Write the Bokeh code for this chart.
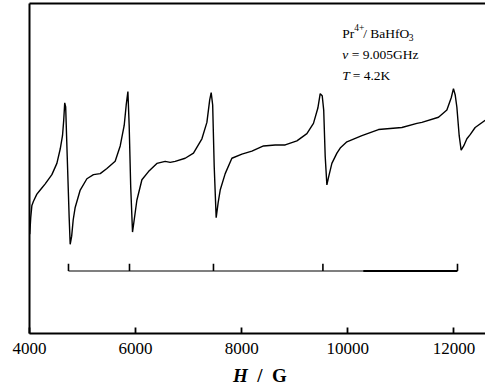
from bokeh.plotting import figure
from bokeh.models import Range1d, LinearAxis, FixedTicker, Label, Div
from bokeh.layouts import column
from bokeh.embed import file_html
from bokeh.resources import INLINE

# EPR spectrum of Pr4+ in BaHfO3 (field in gauss, signal in arbitrary units)
field = [4005, 4023, 4045, 4075, 4139, 4202, 4296, 4422, 4516, 4579, 4622, 4645, 4664,
         4682, 4711, 4748, 4767, 4795, 4824, 4861, 4956, 5082, 5206, 5333, 5459, 5615,
         5710, 5785, 5823, 5855, 5879, 5908, 5942, 5974, 6024, 6119, 6243, 6401, 6558,
         6652, 6746, 6935, 7091, 7250, 7344, 7397, 7425, 7453, 7482, 7519, 7557, 7595,
         7689, 7815, 8004, 8192, 8411, 8632, 8820, 9041, 9229, 9353, 9436, 9480, 9518,
         9546, 9574, 9606, 9640, 9700, 9795, 9857, 9983, 10266, 10579, 10799, 11020,
         11303, 11397, 11710, 11868, 11950, 11992, 12024, 12056, 12100, 12137, 12185,
         12245, 12307, 12401, 12590]
signal = [97, 113, 125, 129, 136, 140, 146, 155, 166, 180, 193, 208, 225,
          221, 173, 113, 87, 95, 111, 123, 140, 151, 155, 156, 161, 168,
          183, 203, 223, 236, 203, 143, 99, 111, 130, 150, 158, 166, 168,
          167, 168, 171, 176, 190, 206, 228, 235, 223, 163, 113, 128, 140,
          156, 171, 175, 178, 183, 184, 184, 188, 195, 205, 220, 234, 232,
          218, 173, 145, 153, 166, 176, 181, 187, 193, 199, 200, 201,
          205, 206, 211, 218, 230, 239, 233, 221, 193, 179, 183,
          190, 194, 201, 208]

# stick diagram of the resonance positions
stick_fields = [4735, 5885, 7468, 9531, 12068]
stick_level = 61
stick_top = 68
stick_dark_from = 10290

x_ticks = [4000, 6000, 8000, 10000, 12000]

p = figure(width=485, height=362, output_backend="svg", toolbar_location=None,
           x_range=Range1d(4000, 12596), y_range=Range1d(0, 322),
           x_axis_location="below", y_axis_location=None,
           min_border_left=29, min_border_right=0, min_border_top=3, min_border_bottom=29)
p.outline_line_color = None
p.grid.visible = False
p.background_fill_color = "white"
p.border_fill_color = "white"

xa = p.xaxis[0]
xa.ticker = FixedTicker(ticks=x_ticks)
xa.major_tick_in = 6
xa.major_tick_out = 0
xa.minor_tick_line_color = None
xa.axis_line_width = 1.8
xa.major_tick_line_width = 1.8
xa.major_label_text_font = "Liberation Serif"
xa.major_label_text_font_size = "17px"
xa.major_label_text_color = "black"
xa.major_label_standoff = 9

left = LinearAxis(ticker=FixedTicker(ticks=[]), axis_line_width=2,
                  major_tick_line_color=None, minor_tick_line_color=None,
                  major_label_text_font_size="0px")
p.add_layout(left, "left")
top = LinearAxis(ticker=FixedTicker(ticks=[]), axis_line_width=2,
                 major_tick_line_color=None, minor_tick_line_color=None,
                 major_label_text_font_size="0px")
p.add_layout(top, "above")

p.line(field, signal, line_color="black", line_width=1.4)

# stick diagram
p.line([stick_fields[0], stick_dark_from], [stick_level, stick_level], line_color="#555555", line_width=1.6)
p.line([stick_dark_from, stick_fields[-1]], [stick_level, stick_level], line_color="black", line_width=1.8)
p.segment(x0=stick_fields, y0=[stick_level] * len(stick_fields),
          x1=stick_fields, y1=[stick_top] * len(stick_fields),
          line_color="black", line_width=1.6)

font = "Liberation Serif"
tx = 9894

def lab(text, x, y, size, style="normal", dx=0, dy=0):
    p.add_layout(Label(x=x, y=y, text=text, x_offset=dx, y_offset=dy,
                       text_font=font, text_font_size=size, text_font_style=style,
                       text_color="black", text_baseline="alphabetic", text_align="left"))

lab("Pr", tx, 293, "13.5px")
lab("4+", tx, 293, "9.5px", dx=12, dy=6)
lab("/ BaHfO", tx, 293, "13.5px", dx=21)
lab("3", tx, 293, "9.5px", dx=66.5, dy=-4)
lab("v", tx, 272, "13.5px", "italic")
lab("= 9.005GHz", tx, 272, "13.5px", dx=9.5)
lab("T", tx, 252, "13.5px", "italic")
lab("= 4.2K", tx, 252, "13.5px", dx=10.5)

xlabel = Div(text='<div style="font-family:\'Liberation Serif\';font-size:19px;font-weight:bold;'
                  'line-height:27px;padding-left:233px;color:black;white-space:nowrap">'
                  '<i>H</i>&nbsp; /&nbsp; G</div>',
             width=485, height=25, margin=(0, 0, 0, 0))

layout = column(p, xlabel, spacing=0)
open("out.html", "w").write(file_html(layout, INLINE))
